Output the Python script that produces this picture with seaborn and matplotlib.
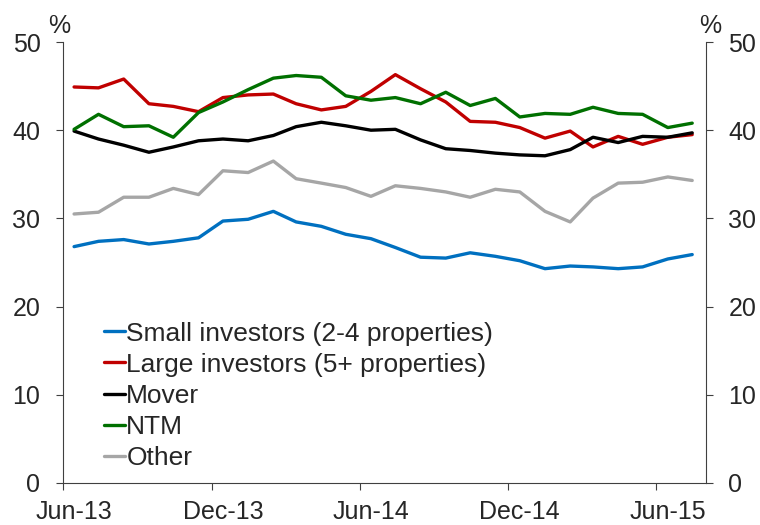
import matplotlib.pyplot as plt
import pandas as pd
import seaborn as sns

# monthly shares (%), Jun-13 .. Jul-15
months = pd.date_range('2013-06-01', periods=26, freq='MS')
small = [26.8, 27.4, 27.6, 27.1, 27.4, 27.8, 29.7, 29.9, 30.8, 29.6, 29.1, 28.2, 27.7,
         26.7, 25.6, 25.5, 26.1, 25.7, 25.2, 24.3, 24.6, 24.5, 24.3, 24.5, 25.4, 25.9]
large = [44.9, 44.8, 45.8, 43.0, 42.7, 42.1, 43.7, 44.0, 44.1, 43.0, 42.3, 42.7, 44.4,
         46.3, 44.7, 43.2, 41.0, 40.9, 40.3, 39.1, 39.9, 38.1, 39.3, 38.4, 39.2, 39.5]
mover = [39.9, 39.0, 38.3, 37.5, 38.1, 38.8, 39.0, 38.8, 39.4, 40.4, 40.9, 40.5, 40.0,
         40.1, 38.9, 37.9, 37.7, 37.4, 37.2, 37.1, 37.8, 39.2, 38.6, 39.3, 39.2, 39.7]
ntm = [40.1, 41.8, 40.4, 40.5, 39.2, 42.0, 43.2, 44.6, 45.9, 46.2, 46.0, 43.9, 43.4,
       43.7, 43.0, 44.3, 42.8, 43.6, 41.5, 41.9, 41.8, 42.6, 41.9, 41.8, 40.3, 40.8]
other = [30.5, 30.7, 32.4, 32.4, 33.4, 32.7, 35.4, 35.2, 36.5, 34.5, 34.0, 33.5, 32.5,
         33.7, 33.4, 33.0, 32.4, 33.3, 33.0, 30.8, 29.6, 32.3, 34.0, 34.1, 34.7, 34.3]

series_names = ['Small investors (2-4 properties)', 'Large investors (5+ properties)',
                'Mover', 'NTM', 'Other']
colors = ['#0070C0', '#C00000', '#000000', '#007000', '#A6A6A6']
tick_labels = ['Jun-13', 'Dec-13', 'Jun-14', 'Dec-14', 'Jun-15']

mid = months + pd.Timedelta(days=14)
frames = []
for name, vals in zip(series_names, [small, large, mover, ntm, other]):
    frames.append(pd.DataFrame({'date': mid, 'share': vals, 'series': name}))
df = pd.concat(frames, ignore_index=True)

sns.set_theme(style='white')
plt.rcParams['font.family'] = ['Liberation Sans', 'DejaVu Sans']

fig, ax = plt.subplots(figsize=(7.6, 5.25), dpi=100)
fig.subplots_adjust(left=0.0825, right=0.929, top=0.92, bottom=0.08)

sns.lineplot(data=df, x='date', y='share', hue='series', hue_order=series_names,
             palette=colors, linewidth=2.4, ax=ax)

ax.set_xlim(pd.Timestamp('2013-06-01'), pd.Timestamp('2015-08-01'))
ax.set_ylim(0, 50)
ax.set_xlabel('')
ax.set_ylabel('')

# boundary ticks without labels, labels centred on the month
ax.set_xticks(months[::6])
ax.set_xticklabels([])
ax.set_xticks(mid[::6], minor=True)
ax.set_xticklabels(tick_labels, minor=True, fontsize=18)
ax.tick_params(axis='x', which='major', direction='out', length=5, width=0.8,
               color='#404040', bottom=True)
ax.tick_params(axis='x', which='minor', length=0, pad=12)

ax.set_yticks(range(0, 51, 10))
ax.tick_params(axis='y', direction='out', length=5, width=0.8, color='#404040',
               left=True, right=True, labelright=True, labelsize=18)
ax.tick_params(axis='y', which='major', pad=11)

for side in ['left', 'right', 'bottom']:
    ax.spines[side].set_color('#404040')
    ax.spines[side].set_linewidth(0.8)
ax.spines['top'].set_visible(False)

fig.text(59 / 760, 1 - 33 / 525, '%', ha='center', va='baseline', fontsize=18)
fig.text(710 / 760, 1 - 33 / 525, '%', ha='center', va='baseline', fontsize=18)

handles, labels = ax.get_legend_handles_labels()
ax.legend(handles, labels, loc='upper left', bbox_to_anchor=(0.064, 0.366),
          frameon=False, fontsize=19, handlelength=0.8, handletextpad=0.05,
          labelspacing=0.27, borderpad=0, borderaxespad=0)

plt.savefig('out.png', dpi=100)
